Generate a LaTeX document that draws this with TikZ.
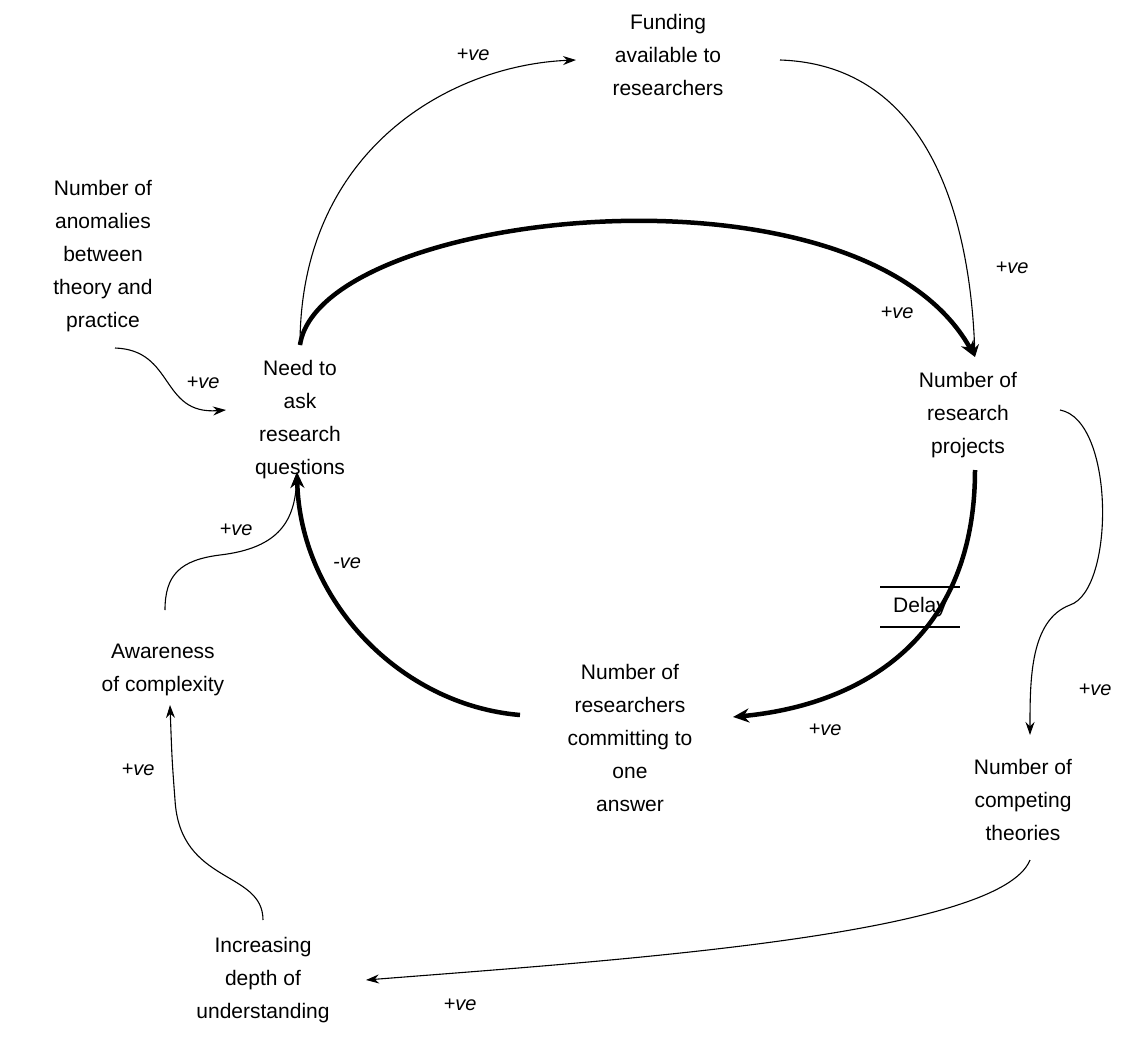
\documentclass[tikz,border=0pt]{standalone}
\usepackage{fontspec}
\setmainfont{Liberation Sans}
\usetikzlibrary{arrows.meta}
\begin{document}
\begin{tikzpicture}[x=1pt,y=-1pt,
  lbl/.style={align=center,font=\fontsize{21}{33}\selectfont},
  sg/.style={font=\fontsize{20}{24}\selectfont\itshape},
  thin/.style={line width=1.1pt,-{Stealth[length=13pt,width=9pt]}},
  thick/.style={line width=4.5pt,-{Stealth[length=16pt,width=14pt]}}]
\useasboundingbox (0,0) rectangle (1133,1046);
\node[lbl] (fund) at (668,55) {Funding\\available to\\researchers};
\node[lbl] (anom) at (103,256) {Number of\\anomalies\\between\\theory and\\practice};
\node[lbl] (need) at (300,420) {Need to\\ask\\research\\questions};
\node[lbl] (proj) at (968,415) {Number of\\research\\projects};
\node[lbl] (res) at (630,738) {Number of\\researchers\\committing to\\one\\answer};
\node[lbl] (aw) at (163,670) {Awareness\\of complexity};
\node[lbl] (comp) at (1023,800) {Number of\\competing\\theories};
\node[lbl] (dep) at (263,980) {Increasing\\depth of\\understanding};
\coordinate (needT) at (300,345);
\coordinate (fundL) at (576,60);
\coordinate (fundR) at (780,60);
\coordinate (projT) at (975,357);
\coordinate (projB) at (975,470);
\coordinate (projR) at (1060,410);
\coordinate (resL) at (520,715);
\coordinate (resR) at (733,717);
\coordinate (needB) at (297,472);
\coordinate (needL) at (226,410);
\coordinate (anomB) at (115,348);
\coordinate (awT) at (165,610);
\coordinate (awB) at (170,705);
\coordinate (compT) at (1030,735);
\coordinate (compB) at (1030,860);
\coordinate (depR) at (366,980);
\coordinate (depT) at (263,920);
\draw[thin] (needT) .. controls (300,150) and (450,65) .. (fundL);
\draw[thin] (fundR) .. controls (930,65) and (970,220) .. (projT);
\draw[thick] (needT) .. controls (320,210) and (860,150) .. (projT);
\draw[thin] (anomB) .. controls (175,350) and (160,415) .. (needL);
\draw[thick] (projB) .. controls (975,640) and (860,705) .. (resR);
\draw[thick] (resL) .. controls (400,705) and (300,600) .. (needB);
\draw[thin] (awT) .. controls (165,575) and (180,560) .. (220,555) .. controls (280,548) and (295,520) .. (needB);
\draw[thin] (projR) .. controls (1115,420) and (1115,590) .. (1070,605) .. controls (1030,620) and (1030,680) .. (compT);
\draw[thin] (compB) .. controls (1000,935) and (620,960) .. (depR);
\draw[thin] (depT) .. controls (263,870) and (180,885) .. (175,800) .. controls (172,760) .. (awB);
\node[sg] at (473,55) {+ve};
\node[sg] at (1012,268) {+ve};
\node[sg] at (897,313) {+ve};
\node[sg] at (203,383) {+ve};
\node[sg] at (236,530) {+ve};
\node[sg] at (347,563) {-ve};
\node[sg] at (825,730) {+ve};
\node[sg] at (1095,690) {+ve};
\node[sg] at (138,770) {+ve};
\node[sg] at (460,1005) {+ve};
\node[lbl] (delay) at (920,607) {Delay};
\draw[line width=1.1pt] (880,587) -- (960,587) (880,627) -- (960,627);
\end{tikzpicture}
\end{document}
